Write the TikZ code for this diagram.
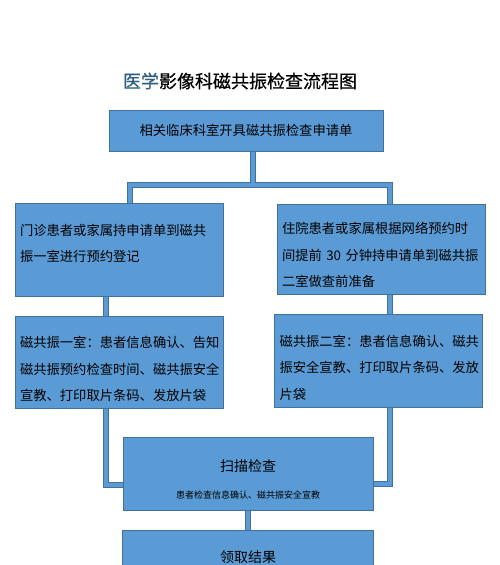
\documentclass[tikz,border=0pt]{standalone}
\usepackage{fontspec}
\setmainfont{Noto Sans CJK SC}
\usetikzlibrary{positioning, backgrounds}
\definecolor{boxblue}{HTML}{5B9BD5}
\definecolor{boxedge}{HTML}{41719C}
\definecolor{titleblue}{HTML}{2F5F80}

\begin{document}
\begin{tikzpicture}[x=1pt, y=-1pt,
  stepbox/.style={draw=boxedge, fill=boxblue, line width=0.9pt},
  sidebox/.style={stepbox, minimum width=208pt, text width=198pt, align=left,
    font=\fontsize{13.3}{26.5}\selectfont, execute at begin node=\rule{0pt}{24pt}}]
  \useasboundingbox (0,0) rectangle (500,565);

  % title
  \node (title) at (240,81) {\fontsize{18}{18}\selectfont\addfontfeature{FakeBold=0.6}\textcolor{titleblue}{医学}影像科磁共振检查流程图};

  % boxes
  \node[stepbox, minimum width=274pt, minimum height=41pt, font=\fontsize{13.3}{14}\selectfont] (apply) at (246,130.5) {相关临床科室开具磁共振检查申请单};
  \node[sidebox, minimum height=93pt] (left1) at (119,249.5) {门诊患者或家属持申请单到磁共\\振一室进行预约登记\\\mbox{}};
  \node[sidebox, minimum height=90pt] (right1) at (381,249) {住院患者或家属根据网络预约时\\间提前 30 分钟持申请单到磁共振\\二室做查前准备};
  \node[sidebox, minimum height=92pt] (left2) [below=20pt of left1] {磁共振一室：患者信息确认、告知\\磁共振预约检查时间、磁共振安全\\宣教、打印取片条码、发放片袋};
  \node[sidebox, minimum height=93pt] (right2) [below=20pt of right1, xshift=-2.5pt] {磁共振二室：患者信息确认、磁共\\振安全宣教、打印取片条码、发放\\片袋};
  \node[stepbox, minimum width=250pt, minimum height=73pt, align=center, font=\fontsize{14}{14}\selectfont] (scan) at (248,473.5) {\rule{0pt}{23pt}扫描检查\\[13pt]{\fontsize{9}{9}\selectfont 患者检查信息确认、磁共振安全宣教}};
  \node[stepbox, minimum width=251pt, minimum height=52pt, font=\fontsize{14}{14}\selectfont] (result) [below=20pt of scan] {领取结果};

  % pipes
  \coordinate (split) at (253,185);
  \coordinate (lbend) at (130,185);
  \coordinate (rbend) at (390,185);
  \coordinate (ldrop) at (106,485);
  \coordinate (rdrop) at (390,484);
  \begin{scope}[on background layer]
    \foreach \w/\c in {5.5pt/boxedge, 3.6pt/boxblue}
      \draw[line width=\w, draw=\c]
        (split |- apply.south) -- (split)
        (lbend |- left1.north) -- (lbend) -- (rbend) -- (rbend |- right1.north)
        (ldrop |- left1.south) -- (ldrop |- left2.north)
        (rdrop |- right1.south) -- (rdrop |- right2.north)
        (ldrop |- left2.south) -- (ldrop) -- (ldrop -| scan.west)
        (rdrop |- right2.south) -- (rdrop) -- (rdrop -| scan.east)
        (scan.south) -- (result.north);
  \end{scope}
\end{tikzpicture}
\end{document}
